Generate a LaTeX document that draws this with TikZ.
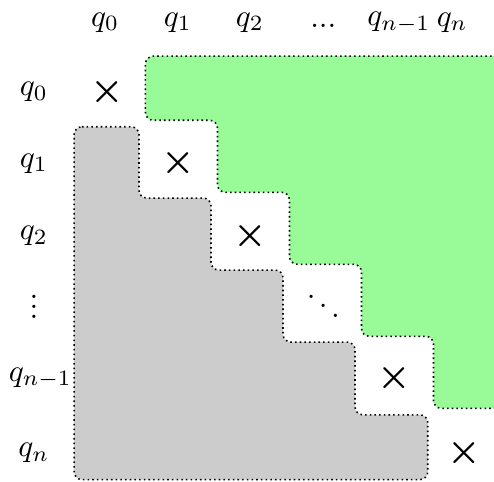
\documentclass[tikz,border=0pt]{standalone}
\usepackage{amsmath}
\usetikzlibrary{positioning}
\definecolor{palegreen}{RGB}{152,251,152}
\newcommand{\shortvdots}{\vbox{\baselineskip3.3pt\lineskiplimit0pt\hbox{.}\hbox{.}\hbox{.}}}

\begin{document}
\begin{tikzpicture}[
    x=0.81cm, y=0.81cm,
    region/.style={densely dotted, line width=0.5pt, rounded corners=2.5pt},
    upper/.style={region, fill=palegreen},
    lower/.style={region, fill=gray!40},
    lbl/.style={inner sep=1pt},
    cross/.style={inner sep=1pt, font=\large\boldmath}
]
    \useasboundingbox (-1.46,1.28) rectangle (5.40,-5.40);
    \clip (-1.46,1.28) rectangle (5.40,-5.40);

    % Regions above and below the diagonal
    \draw[upper] (5.8,0.5) -- (0.56,0.5) -- (0.56,-0.39) -- (1.56,-0.39) -- (1.56,-1.39)
        -- (2.56,-1.39) -- (2.56,-2.39) -- (3.56,-2.39) -- (3.56,-3.39)
        -- (4.56,-3.39) -- (4.56,-4.39) -- (5.8,-4.39) -- cycle;
    \draw[lower] (-0.43,-0.48) -- (0.47,-0.48) -- (0.47,-1.47) -- (1.47,-1.47) -- (1.47,-2.47)
        -- (2.47,-2.47) -- (2.47,-3.47) -- (3.47,-3.47) -- (3.47,-4.48)
        -- (4.48,-4.48) -- (4.48,-5.38) -- (-0.43,-5.38) -- cycle;

    % Column labels
    \node[lbl] (c0) at (0, 0.97) {$q_0$};
    \node[lbl] (c1) at (1.01, 0.97) {$q_1$};
    \node[lbl] (c2) at (2.01, 0.97) {$q_2$};
    \node[lbl] (c3) at (3.03, 0.92) {$...$};
    \node[lbl] (c4) at (4.08, 0.97) {$q_{n-1}$};
    \node[lbl] (c5) at (4.82, 0.97) {$q_n$};

    % Row labels
    \node[lbl] (r0) at (-0.99, 0) {$q_0$};
    \node[lbl] (r1) at (-0.99, -0.99) {$q_1$};
    \node[lbl] (r2) at (-0.99, -2.0) {$q_2$};
    \node[lbl] (r3) at (-0.99, -2.98) {\shortvdots};
    \node[lbl] (r4) at (-0.90, -3.97) {$q_{n-1}$};
    \node[lbl] (r5) at (-0.99, -5.01) {$q_n$};

    % Diagonal
    \node[cross] (d0) at (0.03, 0) {$\times$};
    \node[cross] (d1) at (1.01, -0.99) {$\times$};
    \node[cross] (d2) at (2.01, -2.0) {$\times$};
    \node[lbl] (d3) at (3.03, -2.84) {$\ddots$};
    \node[cross] (d4) at (4.01, -3.97) {$\times$};
    \node[cross] (d5) at (4.99, -5.01) {$\times$};
\end{tikzpicture}
\end{document}
